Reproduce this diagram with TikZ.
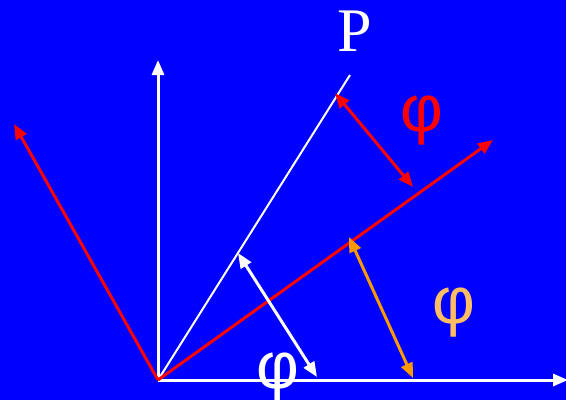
\documentclass[tikz,border=0pt]{standalone}
\usepackage{fontspec}
\setmainfont{Liberation Serif}
\newfontfamily\phifont{Liberation Sans}
\usetikzlibrary{arrows.meta}
\definecolor{bg}{RGB}{0,0,255}
\definecolor{ared}{RGB}{255,0,0}
\definecolor{aorange}{RGB}{255,153,0}
\definecolor{lorange}{RGB}{255,190,100}
\begin{document}
\begin{tikzpicture}[x=1pt,y=-1pt,
  tipend/.style={-{Triangle[length=15pt,width=12pt]}},
  dbl/.style={{Triangle[length=15pt,width=12pt]}-{Triangle[length=15pt,width=12pt]}},
  axis/.style={white,line width=3pt,tipend},
  lbl/.style={inner sep=0pt,anchor=center}]
\fill[bg] (0,0) rectangle (566,400);
\useasboundingbox (0,0) rectangle (566,400);
\coordinate (O) at (158,380);
\coordinate (Ytip) at (158,60);
\coordinate (Xtip) at (568,380);
\coordinate (Lred) at (14,124);
\coordinate (Rred) at (493,140);
\coordinate (Pend) at (350,75);
\coordinate (r1) at (335,93);
\coordinate (r2) at (413,187);
\coordinate (w1) at (238,253);
\coordinate (w2) at (317,377);
\coordinate (o1) at (349,237);
\coordinate (o2) at (413,378);
\draw[axis] (O) -- (Ytip);
\draw[axis] (O) -- (Xtip);
\draw[white,line width=2pt] (O) -- (Pend);
\draw[ared,line width=3pt,tipend] (O) -- (Lred);
\draw[ared,line width=3pt,tipend] (O) -- (Rred);
\draw[ared,line width=3pt,dbl] (r1) -- (r2);
\draw[white,line width=3pt,dbl] (w1) -- (w2);
\draw[aorange,line width=3pt,dbl] (o1) -- (o2);
\node[lbl,white,font=\fontsize{62}{62}\selectfont] (P) at (355,31) {P};
\node[lbl,ared,font=\phifont\fontsize{66}{66}\selectfont] (phr) at (422,121) {φ};
\node[lbl,lorange,font=\phifont\fontsize{66}{66}\selectfont] (pho) at (454,313) {φ};
\node[lbl,white,font=\phifont\fontsize{66}{66}\selectfont,anchor=north] (phw) at (278,353) {φ};
\end{tikzpicture}
\end{document}
